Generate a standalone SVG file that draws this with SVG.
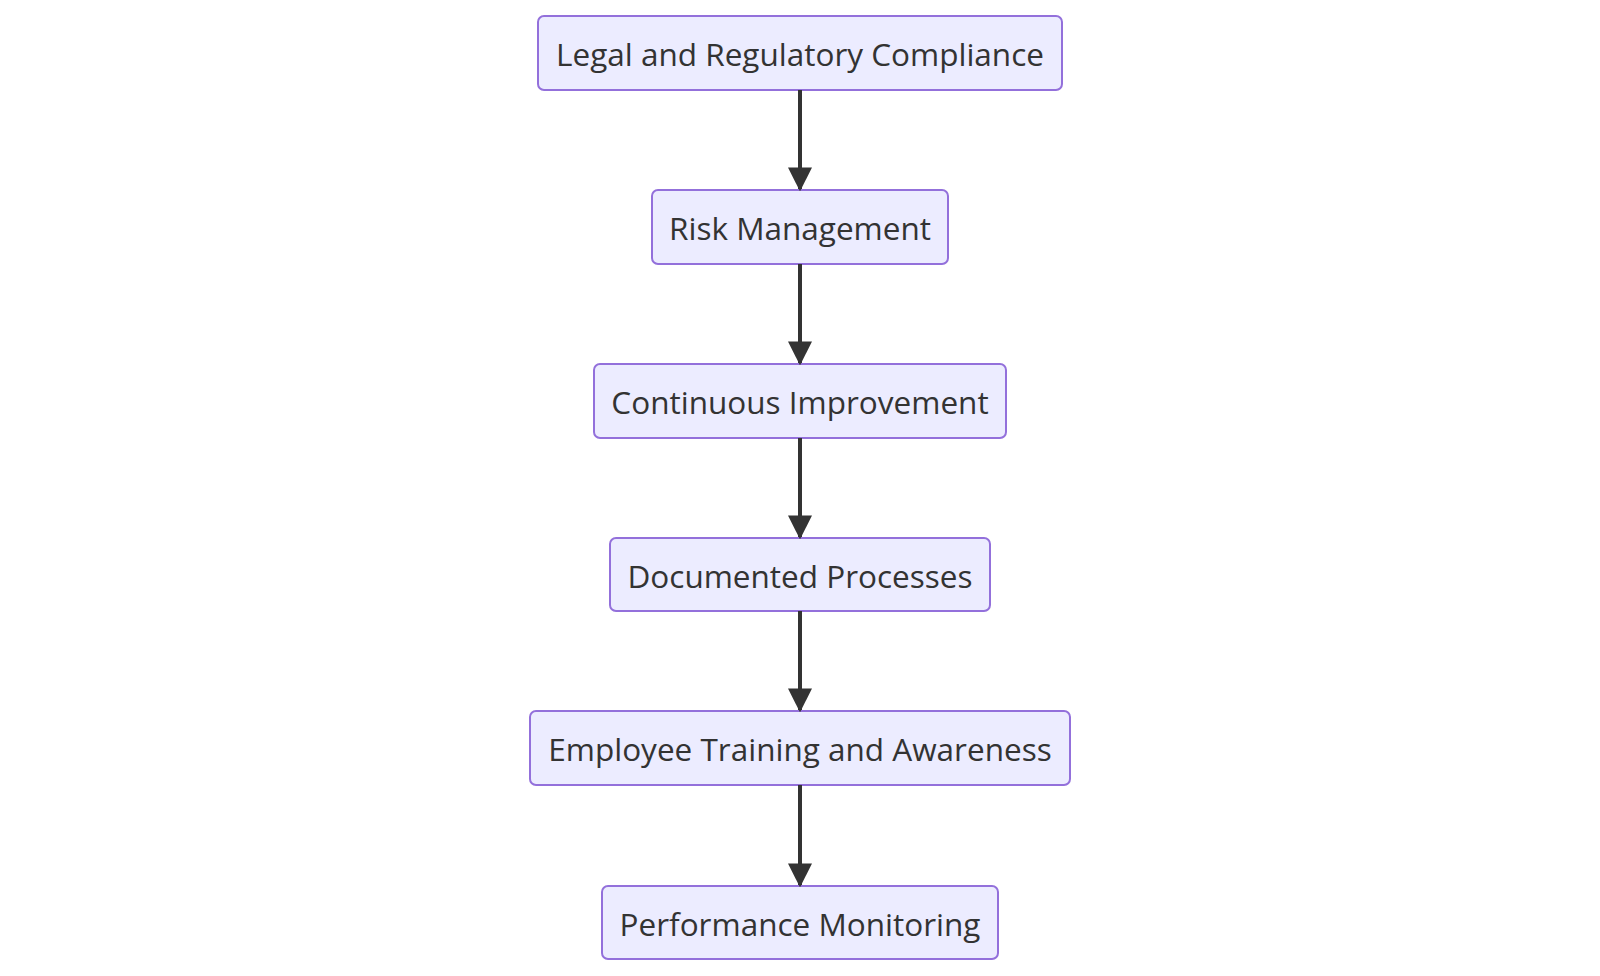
<svg xmlns="http://www.w3.org/2000/svg" width="1600" height="976" viewBox="0 0 1600 976">
<style>
.n rect{fill:#ECECFF;stroke:#9370DB;stroke-width:2}
.n text{font-family:"Open Sans","Liberation Sans",sans-serif;font-size:31.5px;fill:#333;text-anchor:middle;dominant-baseline:central}
.e line{stroke:#333;stroke-width:4}
</style>
<defs><marker id="a" viewBox="0 0 10 10" refX="9" refY="5" markerWidth="24" markerHeight="24" markerUnits="userSpaceOnUse" orient="auto"><path d="M0,0L10,5L0,10z" fill="#333"/></marker></defs>
<rect width="1600" height="976" fill="#fff"/>
<g id="n1" class="n"><rect x="538" y="16" width="524" height="74" rx="6"/><text x="800" y="53">Legal and Regulatory Compliance</text></g>
<g id="n2" class="n"><rect x="652" y="190" width="296" height="74" rx="6"/><text x="800" y="227">Risk Management</text></g>
<g id="n3" class="n"><rect x="594" y="364" width="412" height="74" rx="6"/><text x="800" y="401">Continuous Improvement</text></g>
<g id="n4" class="n"><rect x="610" y="538" width="380" height="73" rx="6"/><text x="800" y="575">Documented Processes</text></g>
<g id="n5" class="n"><rect x="530" y="711" width="540" height="74" rx="6"/><text x="800" y="748">Employee Training and Awareness</text></g>
<g id="n6" class="n"><rect x="602" y="886" width="396" height="73" rx="6"/><text x="800" y="923">Performance Monitoring</text></g>
<g class="e">
<line x1="800" y1="90" x2="800" y2="189" marker-end="url(#a)"/>
<line x1="800" y1="264" x2="800" y2="363" marker-end="url(#a)"/>
<line x1="800" y1="438" x2="800" y2="537" marker-end="url(#a)"/>
<line x1="800" y1="611" x2="800" y2="710" marker-end="url(#a)"/>
<line x1="800" y1="785" x2="800" y2="885" marker-end="url(#a)"/>
</g>
</svg>
